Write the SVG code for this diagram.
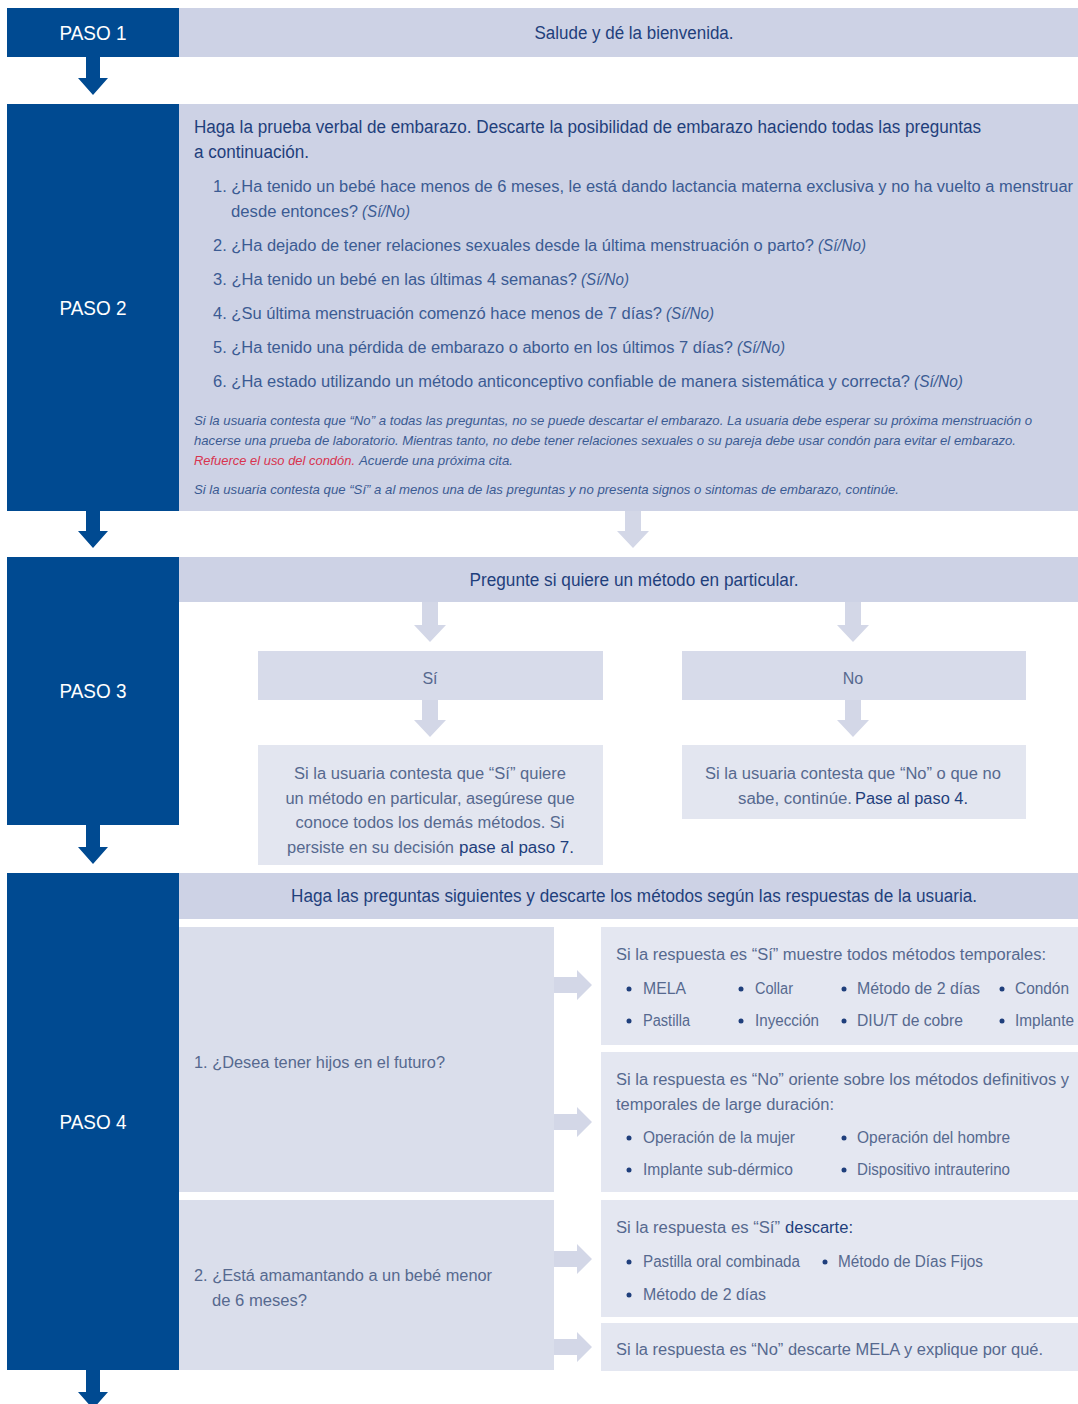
<svg xmlns="http://www.w3.org/2000/svg" width="1078" height="1404" viewBox="0 0 1078 1404">
<style>
text{font-family:"Liberation Sans Narrow","Liberation Sans",Arial,sans-serif}
.dark{fill:#004a91}
.bar{fill:#cdd2e5}
.sub{fill:#d7dbea}
.pale{fill:#e3e6f0}
.qbox{fill:#dadeeb}
.rbox{fill:#e4e7f1}
.la{fill:#d3d7e7}
.da{fill:#004a91}
.paso{fill:#ffffff;font-size:21px;text-anchor:middle}
.hd{fill:#1f3f7c;font-size:18px}
.q{fill:#3b5b93;font-size:16px}
.note{fill:#3b5b93;font-size:13px;font-style:italic}
.red{fill:#d8344f}
.g{fill:#56698f;font-size:16px}
.b{fill:#1f3f7c}
.it{font-style:italic}
.c{text-anchor:middle}
.dot{fill:#1f3f7c}
</style>

<g id="paso1">
  <rect class="dark" x="7" y="8" width="172" height="49"/>
  <rect class="bar" x="179" y="8" width="899" height="49"/>
  <text class="paso" x="93" y="40" textLength="67" lengthAdjust="spacingAndGlyphs">PASO 1</text>
  <text class="hd c" x="634" y="39" textLength="199" lengthAdjust="spacingAndGlyphs">Salude y dé la bienvenida.</text>
</g>

<g id="paso2">
  <rect class="dark" x="7" y="104" width="172" height="407"/>
  <rect class="bar" x="179" y="104" width="899" height="407"/>
  <text class="paso" x="93" y="315" textLength="67" lengthAdjust="spacingAndGlyphs">PASO 2</text>
  <text class="hd" x="194" y="133" textLength="787" lengthAdjust="spacingAndGlyphs">Haga la prueba verbal de embarazo. Descarte la posibilidad de embarazo haciendo todas las preguntas</text>
  <text class="hd" x="194" y="158" textLength="115" lengthAdjust="spacingAndGlyphs">a continuación.</text>
  <text class="q" x="213" y="192" textLength="860" lengthAdjust="spacingAndGlyphs">1. ¿Ha tenido un bebé hace menos de 6 meses, le está dando lactancia materna exclusiva y no ha vuelto a menstruar</text>
  <text class="q" x="231" y="217" textLength="127" lengthAdjust="spacingAndGlyphs">desde entonces?</text>
  <text class="q it" x="362" y="217" textLength="48" lengthAdjust="spacingAndGlyphs">(Sí/No)</text>
  <text class="q" x="213" y="251" textLength="601" lengthAdjust="spacingAndGlyphs">2. ¿Ha dejado de tener relaciones sexuales desde la última menstruación o parto?</text>
  <text class="q it" x="818" y="251" textLength="48" lengthAdjust="spacingAndGlyphs">(Sí/No)</text>
  <text class="q" x="213" y="285" textLength="364" lengthAdjust="spacingAndGlyphs">3. ¿Ha tenido un bebé en las últimas 4 semanas?</text>
  <text class="q it" x="581" y="285" textLength="48" lengthAdjust="spacingAndGlyphs">(Sí/No)</text>
  <text class="q" x="213" y="319" textLength="449" lengthAdjust="spacingAndGlyphs">4. ¿Su última menstruación comenzó hace menos de 7 días?</text>
  <text class="q it" x="666" y="319" textLength="48" lengthAdjust="spacingAndGlyphs">(Sí/No)</text>
  <text class="q" x="213" y="353" textLength="520" lengthAdjust="spacingAndGlyphs">5. ¿Ha tenido una pérdida de embarazo o aborto en los últimos 7 días?</text>
  <text class="q it" x="737" y="353" textLength="48" lengthAdjust="spacingAndGlyphs">(Sí/No)</text>
  <text class="q" x="213" y="387" textLength="697" lengthAdjust="spacingAndGlyphs">6. ¿Ha estado utilizando un método anticonceptivo confiable de manera sistemática y correcta?</text>
  <text class="q it" x="914" y="387" textLength="49" lengthAdjust="spacingAndGlyphs">(Sí/No)</text>
  <text class="note" x="194" y="425" textLength="838" lengthAdjust="spacingAndGlyphs">Si la usuaria contesta que “No” a todas las preguntas, no se puede descartar el embarazo. La usuaria debe esperar su próxima menstruación o</text>
  <text class="note" x="194" y="445" textLength="822" lengthAdjust="spacingAndGlyphs">hacerse una prueba de laboratorio. Mientras tanto, no debe tener relaciones sexuales o su pareja debe usar condón para evitar el embarazo.</text>
  <text class="note red" x="194" y="465" textLength="161" lengthAdjust="spacingAndGlyphs">Refuerce el uso del condón.</text>
  <text class="note" x="359" y="465" textLength="154" lengthAdjust="spacingAndGlyphs">Acuerde una próxima cita.</text>
  <text class="note" x="194" y="494" textLength="705" lengthAdjust="spacingAndGlyphs">Si la usuaria contesta que “Sí” a al menos una de las preguntas y no presenta signos o sintomas de embarazo, continúe.</text>
</g>

<g id="paso3">
  <rect class="dark" x="7" y="557" width="172" height="268"/>
  <rect class="bar" x="179" y="557" width="899" height="45"/>
  <text class="paso" x="93" y="698" textLength="67" lengthAdjust="spacingAndGlyphs">PASO 3</text>
  <text class="hd c" x="634" y="586" textLength="329" lengthAdjust="spacingAndGlyphs">Pregunte si quiere un método en particular.</text>
</g>

<g id="si">
  <rect class="sub" x="258" y="651" width="345" height="49"/>
  <text class="g c" x="430" y="684">Sí</text>
</g>
<g id="no">
  <rect class="sub" x="682" y="651" width="344" height="49"/>
  <text class="g c" x="853" y="684">No</text>
</g>
<g id="si-texto">
  <rect class="pale" x="258" y="745" width="345" height="120"/>
  <text class="g c" x="430" y="779" textLength="272" lengthAdjust="spacingAndGlyphs">Si la usuaria contesta que “Sí” quiere</text>
  <text class="g c" x="430" y="804" textLength="289" lengthAdjust="spacingAndGlyphs">un método en particular, asegúrese que</text>
  <text class="g c" x="430" y="828" textLength="269" lengthAdjust="spacingAndGlyphs">conoce todos los demás métodos. Si</text>
  <text class="g" x="287" y="853" textLength="167" lengthAdjust="spacingAndGlyphs">persiste en su decisión</text>
  <text class="g b" x="459" y="853" textLength="115" lengthAdjust="spacingAndGlyphs">pase al paso 7.</text>
</g>
<g id="no-texto">
  <rect class="pale" x="682" y="745" width="344" height="74"/>
  <text class="g c" x="853" y="779" textLength="296" lengthAdjust="spacingAndGlyphs">Si la usuaria contesta que “No” o que no</text>
  <text class="g" x="738" y="804" textLength="114" lengthAdjust="spacingAndGlyphs">sabe, continúe.</text>
  <text class="g b" x="855" y="804" textLength="113" lengthAdjust="spacingAndGlyphs">Pase al paso 4.</text>
</g>

<g id="paso4">
  <rect class="dark" x="7" y="873" width="172" height="497"/>
  <rect class="bar" x="179" y="873" width="899" height="46"/>
  <text class="paso" x="93" y="1129" textLength="67" lengthAdjust="spacingAndGlyphs">PASO 4</text>
  <text class="hd c" x="634" y="902" textLength="686" lengthAdjust="spacingAndGlyphs">Haga las preguntas siguientes y descarte los métodos según las respuestas de la usuaria.</text>
</g>

<g id="pregunta1">
  <rect class="qbox" x="179" y="927" width="375" height="265"/>
  <text class="g" x="194" y="1068" textLength="251" lengthAdjust="spacingAndGlyphs">1. ¿Desea tener hijos en el futuro?</text>
</g>
<g id="pregunta2">
  <rect class="qbox" x="179" y="1200" width="375" height="170"/>
  <text class="g" x="194" y="1281" textLength="298" lengthAdjust="spacingAndGlyphs">2. ¿Está amamantando a un bebé menor</text>
  <text class="g" x="212" y="1306" textLength="95" lengthAdjust="spacingAndGlyphs">de 6 meses?</text>
</g>

<g id="r1-si">
  <rect class="rbox" x="601" y="927" width="477" height="118"/>
  <text class="g" x="616" y="960" textLength="430" lengthAdjust="spacingAndGlyphs">Si la respuesta es “Sí” muestre todos métodos temporales:</text>
  <circle class="dot" cx="629" cy="989" r="2.5"/><text class="g" x="643" y="994" textLength="43" lengthAdjust="spacingAndGlyphs">MELA</text>
  <circle class="dot" cx="741" cy="989" r="2.5"/><text class="g" x="755" y="994" textLength="38" lengthAdjust="spacingAndGlyphs">Collar</text>
  <circle class="dot" cx="844" cy="989" r="2.5"/><text class="g" x="857" y="994" textLength="123" lengthAdjust="spacingAndGlyphs">Método de 2 días</text>
  <circle class="dot" cx="1002" cy="989" r="2.5"/><text class="g" x="1015" y="994" textLength="54" lengthAdjust="spacingAndGlyphs">Condón</text>
  <circle class="dot" cx="629" cy="1021" r="2.5"/><text class="g" x="643" y="1026" textLength="47" lengthAdjust="spacingAndGlyphs">Pastilla</text>
  <circle class="dot" cx="741" cy="1021" r="2.5"/><text class="g" x="755" y="1026" textLength="64" lengthAdjust="spacingAndGlyphs">Inyección</text>
  <circle class="dot" cx="844" cy="1021" r="2.5"/><text class="g" x="857" y="1026" textLength="106" lengthAdjust="spacingAndGlyphs">DIU/T de cobre</text>
  <circle class="dot" cx="1002" cy="1021" r="2.5"/><text class="g" x="1015" y="1026" textLength="59" lengthAdjust="spacingAndGlyphs">Implante</text>
</g>

<g id="r1-no">
  <rect class="rbox" x="601" y="1052" width="477" height="140"/>
  <text class="g" x="616" y="1085" textLength="453" lengthAdjust="spacingAndGlyphs">Si la respuesta es “No” oriente sobre los métodos definitivos y</text>
  <text class="g" x="616" y="1110" textLength="218" lengthAdjust="spacingAndGlyphs">temporales de large duración:</text>
  <circle class="dot" cx="629" cy="1138" r="2.5"/><text class="g" x="643" y="1143" textLength="152" lengthAdjust="spacingAndGlyphs">Operación de la mujer</text>
  <circle class="dot" cx="844" cy="1138" r="2.5"/><text class="g" x="857" y="1143" textLength="153" lengthAdjust="spacingAndGlyphs">Operación del hombre</text>
  <circle class="dot" cx="629" cy="1170" r="2.5"/><text class="g" x="643" y="1175" textLength="150" lengthAdjust="spacingAndGlyphs">Implante sub-dérmico</text>
  <circle class="dot" cx="844" cy="1170" r="2.5"/><text class="g" x="857" y="1175" textLength="153" lengthAdjust="spacingAndGlyphs">Dispositivo intrauterino</text>
</g>

<g id="r2-si">
  <rect class="rbox" x="601" y="1200" width="477" height="117"/>
  <text class="g" x="616" y="1233" textLength="164" lengthAdjust="spacingAndGlyphs">Si la respuesta es “Sí”</text>
  <text class="g b" x="785" y="1233" textLength="68" lengthAdjust="spacingAndGlyphs">descarte:</text>
  <circle class="dot" cx="629" cy="1262" r="2.5"/><text class="g" x="643" y="1267" textLength="157" lengthAdjust="spacingAndGlyphs">Pastilla oral combinada</text>
  <circle class="dot" cx="825" cy="1262" r="2.5"/><text class="g" x="838" y="1267" textLength="145" lengthAdjust="spacingAndGlyphs">Método de Días Fijos</text>
  <circle class="dot" cx="629" cy="1295" r="2.5"/><text class="g" x="643" y="1300" textLength="123" lengthAdjust="spacingAndGlyphs">Método de 2 días</text>
</g>

<g id="r2-no">
  <rect class="rbox" x="601" y="1323" width="477" height="48"/>
  <text class="g" x="616" y="1355" textLength="427" lengthAdjust="spacingAndGlyphs">Si la respuesta es “No” descarte MELA y explique por qué.</text>
</g>

<g id="connectors">
  <path class="da" d="M86 57H100V78H108L93 95L78 78H86Z"/>
  <path class="da" d="M86 511H100V531H108L93 548L78 531H86Z"/>
  <path class="da" d="M86 825H100V847H108L93 864L78 847H86Z"/>
  <path class="da" d="M86 1370H100V1392H108L93 1409L78 1392H86Z"/>
  <path class="la" d="M625 511H641V531H649L633 548L617 531H625Z"/>
  <path class="la" d="M422 602H438V625H446L430 642L414 625H422Z"/>
  <path class="la" d="M845 602H861V625H869L853 642L837 625H845Z"/>
  <path class="la" d="M422 700H438V720H446L430 737L414 720H422Z"/>
  <path class="la" d="M845 700H861V720H869L853 737L837 720H845Z"/>
  <path class="la" d="M554 977V993H577V1000L592 985L577 970V977Z"/>
  <path class="la" d="M554 1114V1130H577V1137L592 1122L577 1107V1114Z"/>
  <path class="la" d="M554 1251V1267H577V1274L592 1259L577 1244V1251Z"/>
  <path class="la" d="M554 1339V1355H577V1362L592 1347L577 1332V1339Z"/>
</g>
</svg>
